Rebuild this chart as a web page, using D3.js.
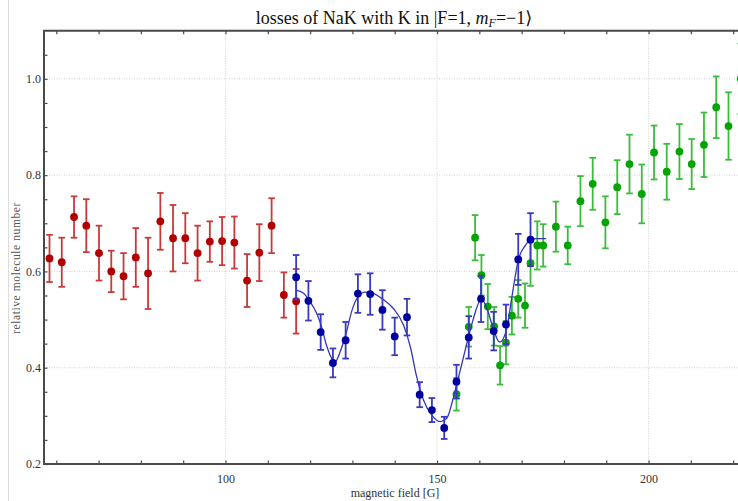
<!DOCTYPE html>
<html>
<head>
<meta charset="utf-8">
<script src="https://cdn.jsdelivr.net/npm/d3@7"></script>
<style>
  html, body { margin: 0; padding: 0; background: #fff; }
  svg { display: block; }
  text { font-family: "Liberation Serif", "DejaVu Serif", serif; }
</style>
</head>
<body>
<svg id="chart" width="738" height="501"></svg>
<script>
// Red series: magnetic field [G], relative molecule number, error
const redField = [58.4, 61.3, 64.2, 67.1, 70.1, 73.0, 75.9, 78.8, 81.7, 84.6, 87.6,
                  90.5, 93.4, 96.3, 99.2, 102.1, 105.1, 108.0, 110.9, 113.8, 116.7];
const redValue = [0.627, 0.619, 0.713, 0.695, 0.638, 0.600, 0.590, 0.629, 0.596, 0.704, 0.669,
                  0.669, 0.638, 0.662, 0.663, 0.660, 0.581, 0.639, 0.695, 0.551, 0.538];
const redError = [0.049, 0.051, 0.043, 0.055, 0.057, 0.043, 0.048, 0.061, 0.074, 0.059, 0.069,
                  0.052, 0.057, 0.042, 0.050, 0.054, 0.055, 0.059, 0.057, 0.047, 0.067];

// Blue series
const blueField = [116.7, 119.6, 122.5, 125.4, 128.4, 131.3, 134.2, 137.1, 140.0, 142.9,
                   145.9, 148.8, 151.7, 154.6, 157.5, 160.4, 163.4, 166.3, 169.2, 172.1];
const blueValue = [0.588, 0.539, 0.474, 0.410, 0.457, 0.554, 0.553, 0.520, 0.465, 0.505,
                   0.344, 0.312, 0.275, 0.371, 0.463, 0.543, 0.476, 0.490, 0.625, 0.666];
const blueError = [0.046, 0.041, 0.037, 0.030, 0.038, 0.040, 0.043, 0.041, 0.039, 0.038,
                   0.026, 0.025, 0.023, 0.035, 0.044, 0.048, 0.040, 0.041, 0.053, 0.055];

// Green series
const greenField = [154.6, 157.5, 159.0, 160.5, 162.0, 163.5, 164.9, 166.3, 167.7, 169.2,
                    170.8, 172.1, 173.7, 175.1, 178.1, 180.9, 183.9, 186.8, 189.8, 192.6,
                    195.5, 198.4, 201.3, 204.3, 207.3, 210.2, 213.1, 216.0, 218.9, 221.8];
const greenValue = [0.345, 0.485, 0.670, 0.592, 0.527, 0.486, 0.405, 0.452, 0.508, 0.543,
                    0.529, 0.617, 0.654, 0.654, 0.693, 0.654, 0.746, 0.782, 0.702, 0.775,
                    0.823, 0.761, 0.847, 0.807, 0.849, 0.823, 0.863, 0.941, 0.902, 1.000];
const greenError = [0.034, 0.041, 0.047, 0.042, 0.047, 0.040, 0.040, 0.045, 0.039, 0.039,
                    0.046, 0.047, 0.050, 0.044, 0.052, 0.039, 0.052, 0.054, 0.054, 0.056,
                    0.061, 0.061, 0.056, 0.058, 0.057, 0.052, 0.067, 0.064, 0.070, 0.073];

// Fitted curve through the blue series
const fitField = [116.7, 118.4, 119.7, 121.6, 122.6, 124.0, 125.9, 127.1, 128.5, 129.9,
                  131.4, 133.0, 135.0, 137.4, 139.7, 142.1, 143.7, 145.2, 146.8, 148.9,
                  150.8, 152.3, 153.9, 155.5, 157.5, 158.6, 160.5, 161.8, 163.4, 164.8,
                  166.4, 167.7, 169.2, 170.9, 172.1, 173.6, 175.8];
const fitValue = [0.561, 0.555, 0.541, 0.512, 0.488, 0.443, 0.412, 0.433, 0.471, 0.519,
                  0.548, 0.557, 0.554, 0.541, 0.523, 0.488, 0.443, 0.381, 0.333, 0.300,
                  0.288, 0.295, 0.339, 0.395, 0.466, 0.502, 0.543, 0.523, 0.478, 0.453,
                  0.478, 0.547, 0.623, 0.654, 0.666, 0.668, 0.668];

// Axis ticks
const xMinorTicks = [60, 70, 80, 90, 100, 110, 120, 130, 140, 150, 160, 170, 180, 190, 200, 210, 220];
const xLabelTicks = [100, 150, 200];
const yMinorTicks = [0.2, 0.25, 0.3, 0.35, 0.4, 0.45, 0.5, 0.55, 0.6, 0.65, 0.7, 0.75, 0.8, 0.85, 0.9, 0.95, 1.0, 1.05];
const yLabelTicks = [0.2, 0.4, 0.6, 0.8, 1.0];

const svg = d3.select("#chart");
const plotLeft = 44, plotTop = 30.7, plotBottom = 464, plotRight = 745;

const x = d3.scaleLinear().domain([57.1, 222.8]).range([plotLeft, plotRight]);
const y = d3.scaleLinear().domain([0.2, 1.1]).range([plotBottom, plotTop]);

// outer page edge line
svg.append("line").attr("x1", 8.5).attr("x2", 8.5).attr("y1", 0).attr("y2", 501)
  .attr("stroke", "#dcdcdc").attr("stroke-width", 1);

// grid lines
const grid = svg.append("g").attr("stroke", "#c8c8c8").attr("stroke-width", 0.8)
  .attr("stroke-dasharray", "1,1.5");
grid.selectAll("line.gx").data(xLabelTicks).join("line")
  .attr("x1", d => x(d)).attr("x2", d => x(d)).attr("y1", plotTop).attr("y2", plotBottom);
grid.selectAll("line.gy").data(yLabelTicks.filter(d => d > 0.2)).join("line")
  .attr("x1", plotLeft).attr("x2", plotRight).attr("y1", d => y(d)).attr("y2", d => y(d));

// axes via d3 axis generators, ticks pointing inward
const axisColor = "#4a4a4a";
function styleAxis(g) {
  g.select(".domain").remove();
  g.selectAll(".tick line").attr("stroke", axisColor).attr("stroke-width", 1.2);
  g.selectAll(".tick text").attr("fill", "#333").attr("font-size", 12);
}
svg.append("g").attr("transform", `translate(0,${plotBottom})`)
  .call(d3.axisBottom(x).tickValues(xMinorTicks).tickSize(-3.5).tickPadding(10)
    .tickFormat(d => xLabelTicks.includes(d) ? d3.format("d")(d) : ""))
  .call(styleAxis);
svg.append("g").attr("transform", `translate(0,${plotTop})`)
  .call(d3.axisTop(x).tickValues(xMinorTicks).tickSize(-3.5).tickFormat(""))
  .call(styleAxis);
svg.append("g").attr("transform", `translate(${plotLeft},0)`)
  .call(d3.axisLeft(y).tickValues(yMinorTicks).tickSize(-3.5).tickPadding(3)
    .tickFormat(d => yLabelTicks.some(v => Math.abs(v - d) < 1e-9) ? d3.format(".1f")(d) : ""))
  .call(styleAxis);

// frame
svg.append("path")
  .attr("d", `M${plotRight},${plotTop}H${plotLeft}V${plotBottom}H${plotRight}`)
  .attr("fill", "none").attr("stroke", axisColor).attr("stroke-width", 2);

// data series with error bars
function drawSeries(fields, values, errors, barColor, dotColor) {
  const data = fields.map((f, i) => ({ f, v: values[i], e: errors[i] }));
  const g = svg.append("g");
  const bars = g.selectAll("g").data(data).join("g")
    .attr("stroke", barColor).attr("stroke-width", 1.8);
  bars.append("line")
    .attr("x1", d => x(d.f)).attr("x2", d => x(d.f))
    .attr("y1", d => y(d.v - d.e)).attr("y2", d => y(d.v + d.e));
  bars.append("line")
    .attr("x1", d => x(d.f) - 3.3).attr("x2", d => x(d.f) + 3.3)
    .attr("y1", d => y(d.v + d.e)).attr("y2", d => y(d.v + d.e));
  bars.append("line")
    .attr("x1", d => x(d.f) - 3.3).attr("x2", d => x(d.f) + 3.3)
    .attr("y1", d => y(d.v - d.e)).attr("y2", d => y(d.v - d.e));
  g.selectAll("circle").data(data).join("circle")
    .attr("cx", d => x(d.f)).attr("cy", d => y(d.v)).attr("r", 3.9)
    .attr("fill", dotColor);
}

drawSeries(redField, redValue, redError, "#c83a3a", "#b20000");
drawSeries(greenField, greenValue, greenError, "#3cbc3c", "#04a404");

// fit curve
const fitData = fitField.map((f, i) => [x(f), y(fitValue[i])]);
svg.append("path").datum(fitData)
  .attr("d", d3.line().curve(d3.curveMonotoneX))
  .attr("fill", "none").attr("stroke", "#3535b8").attr("stroke-width", 1.3);

drawSeries(blueField, blueValue, blueError, "#3a3ac0", "#0000a0");

// title
const title = svg.append("text").attr("x", 394).attr("y", 24)
  .attr("text-anchor", "middle").attr("font-size", 18).attr("fill", "#111");
title.append("tspan").text("losses of NaK with K in |F=1, ");
title.append("tspan").attr("font-style", "italic").text("m");
title.append("tspan").attr("font-style", "italic").attr("font-size", 12)
  .attr("dy", 3).text("F");
title.append("tspan").attr("dy", -3).text("=\u22121\u27E9");

// axis labels
svg.append("text").attr("x", 395).attr("y", 497).attr("text-anchor", "middle")
  .attr("font-size", 12).attr("fill", "#333").text("magnetic field [G]");
svg.append("text").attr("transform", "translate(20,268) rotate(-90)")
  .attr("text-anchor", "middle").attr("font-size", 11.5).attr("fill", "#555")
  .attr("letter-spacing", 0.6).text("relative molecule number");
</script>
</body>
</html>
